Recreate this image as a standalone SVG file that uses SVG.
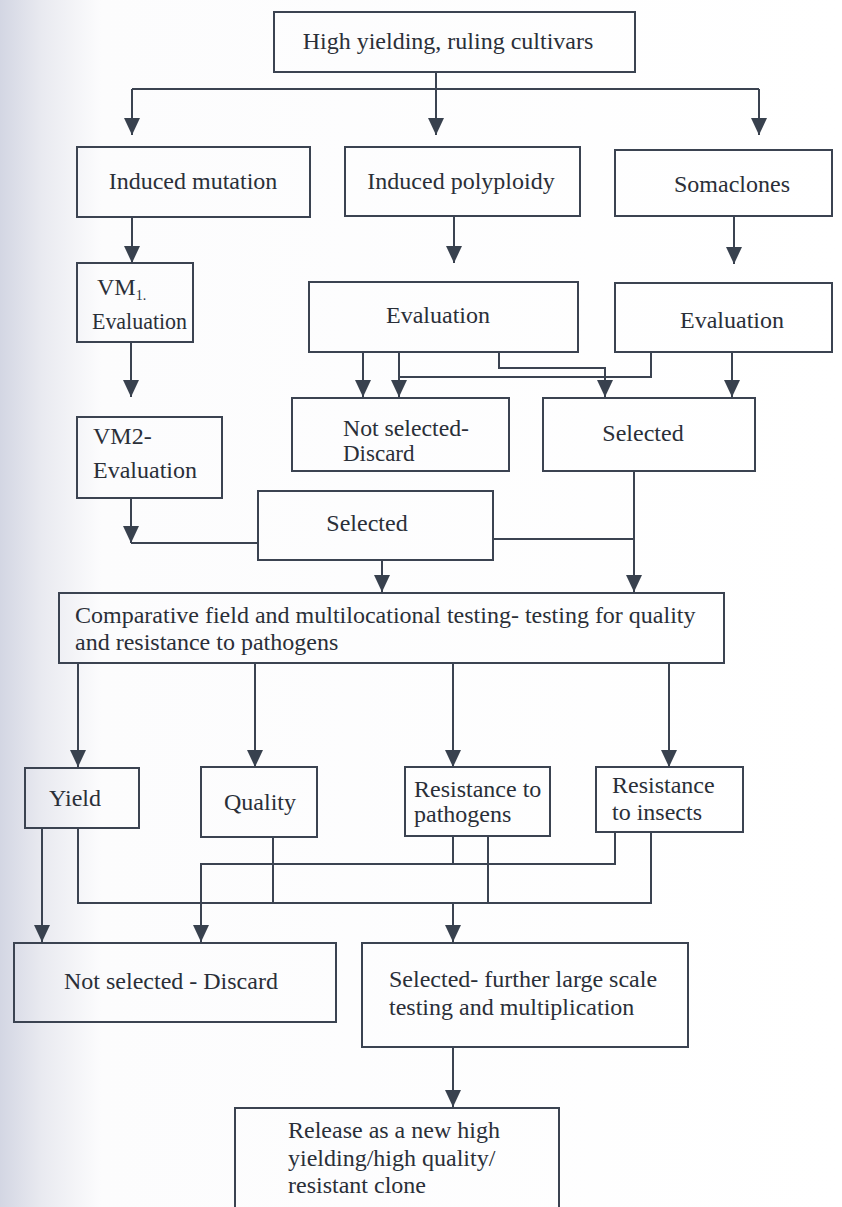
<svg xmlns="http://www.w3.org/2000/svg" width="842" height="1207" viewBox="0 0 842 1207">
<defs>
<linearGradient id="bg" x1="0" y1="0" x2="1" y2="0">
<stop offset="0" stop-color="#d3d6e3"/>
<stop offset="0.05" stop-color="#e9eaf0"/>
<stop offset="0.12" stop-color="#fcfcfd"/>
<stop offset="1" stop-color="#ffffff"/>
</linearGradient>
<marker id="ah" viewBox="0 0 17 16" refX="17" refY="8" markerWidth="17" markerHeight="16" markerUnits="userSpaceOnUse" orient="auto">
<path d="M0,0 L17,8 L0,16 z" fill="#38414e"/>
</marker>
<style>
.box{fill:none;stroke:#3b4351;stroke-width:2}
.t{font-size:24px;fill:#2a2f38}
.s{font-size:23px}
.c{fill:none;stroke:#3b4351;stroke-width:2}
.a{marker-end:url(#ah)}
</style>
</defs>
<rect x="0" y="0" width="842" height="1207" fill="url(#bg)"/>
<g id="connectors">
<path class="c" d="M132,89 H759"/>
<path class="c a" d="M436,72 V135"/>
<path class="c a" d="M132,89 V135"/>
<path class="c a" d="M759,89 V135"/>
<path class="c a" d="M132,217 V263"/>
<path class="c a" d="M454,216 V263"/>
<path class="c a" d="M734,216 V264"/>
<path class="c a" d="M131,342 V397"/>
<path class="c a" d="M131,498 V543"/>
<path class="c" d="M131,543 H258"/>
<path class="c a" d="M363,352 V397"/>
<path class="c a" d="M399,352 V397"/>
<path class="c a" d="M499,352 V368 H605 V397"/>
<path class="c" d="M651,352 V377 H399"/>
<path class="c a" d="M732,352 V397"/>
<path class="c" d="M493,539 H634"/>
<path class="c a" d="M634,471 V592"/>
<path class="c a" d="M382,560 V592"/>
<path class="c a" d="M78,663 V767"/>
<path class="c a" d="M255,663 V767"/>
<path class="c a" d="M453,663 V767"/>
<path class="c a" d="M669,663 V767"/>
<path class="c a" d="M42,828 V942"/>
<path class="c" d="M78,828 V903 H651 V832"/>
<path class="c" d="M273,837 V903"/>
<path class="c" d="M488,836 V903"/>
<path class="c" d="M453,836 V864"/>
<path class="c a" d="M615,832 V864 H201 V942"/>
<path class="c a" d="M453,903 V942"/>
<path class="c a" d="M453,1047 V1107"/>
</g>
<g font-family="Liberation Serif, DejaVu Serif, serif">
<g id="n-cultivars"><rect class="box" x="274" y="12" width="361" height="60"/><text class="t" x="448" y="49" text-anchor="middle">High yielding, ruling cultivars</text></g>
<g id="n-mutation"><rect class="box" x="77" y="147" width="233" height="70"/><text class="t" x="193" y="189" text-anchor="middle">Induced mutation</text></g>
<g id="n-polyploidy"><rect class="box" x="345" y="147" width="235" height="69"/><text class="t" x="461" y="189" text-anchor="middle">Induced polyploidy</text></g>
<g id="n-somaclones"><rect class="box" x="615" y="150" width="217" height="66"/><text class="t" x="732" y="192" text-anchor="middle">Somaclones</text></g>
<g id="n-vm1"><rect class="box" x="77" y="263" width="116" height="79"/><text class="t" x="97" y="295">VM<tspan font-size="14" dy="5">1.</tspan></text><text class="t" x="92" y="329" textLength="95" lengthAdjust="spacingAndGlyphs">Evaluation</text></g>
<g id="n-vm2"><rect class="box" x="77" y="417" width="145" height="81"/><text class="t" x="93" y="444">VM2-</text><text class="t" x="93" y="478">Evaluation</text></g>
<g id="n-eval-poly"><rect class="box" x="309" y="282" width="269" height="70"/><text class="t" x="438" y="323" text-anchor="middle">Evaluation</text></g>
<g id="n-eval-soma"><rect class="box" x="615" y="283" width="217" height="69"/><text class="t" x="732" y="328" text-anchor="middle">Evaluation</text></g>
<g id="n-notsel1"><rect class="box" x="292" y="398" width="217" height="73"/><text class="t s" x="343" y="436" textLength="126" lengthAdjust="spacingAndGlyphs">Not selected-</text><text class="t s" x="343" y="461">Discard</text></g>
<g id="n-sel-right"><rect class="box" x="543" y="398" width="212" height="73"/><text class="t" x="643" y="441" text-anchor="middle">Selected</text></g>
<g id="n-sel-mid"><rect class="box" x="258" y="491" width="235" height="69"/><text class="t" x="367" y="531" text-anchor="middle">Selected</text></g>
<g id="n-comparative"><rect class="box" x="59" y="593" width="665" height="70"/><text class="t" x="75" y="623">Comparative field and multilocational testing- testing for quality</text><text class="t" x="75" y="650">and resistance to pathogens</text></g>
<g id="n-yield"><rect class="box" x="25" y="768" width="114" height="60"/><text class="t" x="75" y="806" text-anchor="middle">Yield</text></g>
<g id="n-quality"><rect class="box" x="201" y="767" width="116" height="70"/><text class="t" x="260" y="810" text-anchor="middle">Quality</text></g>
<g id="n-res-path"><rect class="box" x="405" y="767" width="145" height="69"/><text class="t" x="414" y="797">Resistance to</text><text class="t" x="414" y="822">pathogens</text></g>
<g id="n-res-ins"><rect class="box" x="596" y="767" width="147" height="65"/><text class="t" x="612" y="793">Resistance</text><text class="t" x="612" y="820">to insects</text></g>
<g id="n-notsel2"><rect class="box" x="14" y="943" width="322" height="79"/><text class="t" x="64" y="989">Not selected - Discard</text></g>
<g id="n-sel-further"><rect class="box" x="362" y="943" width="326" height="104"/><text class="t" x="389" y="987">Selected- further large scale</text><text class="t" x="389" y="1015">testing and multiplication</text></g>
<g id="n-release"><rect class="box" x="235" y="1108" width="324" height="112"/><text class="t" x="288" y="1138">Release as a new high</text><text class="t" x="288" y="1166">yielding/high quality/</text><text class="t" x="288" y="1193">resistant clone</text></g>
</g>
</svg>
